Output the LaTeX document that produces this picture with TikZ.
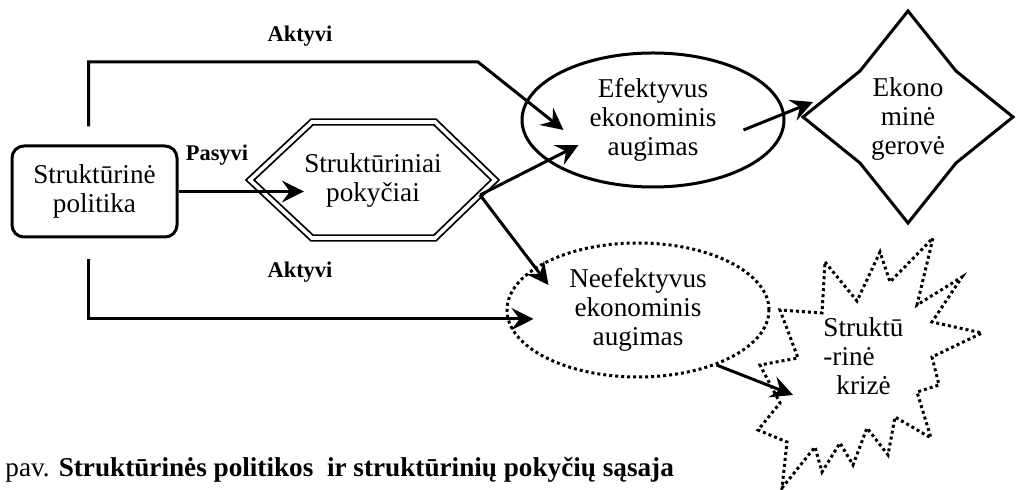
\documentclass[tikz,border=0pt]{standalone}
\usepackage{fontspec}
\setmainfont{Liberation Serif}
\usepackage{tikz}
\usetikzlibrary{arrows.meta, positioning, calc, shapes.geometric}
\tikzstyle{arrow} = [-{Stealth[length=11pt, width=11pt, inset=4pt]}, line width=1.5pt]
\tikzstyle{dots} = [line width=1.5pt, dash pattern=on 1.5pt off 1.5pt]
\tikzstyle{txt} = [align=center, inner sep=0pt]
\tikzstyle{tag} = [font=\fontsize{11.2}{13}\selectfont\bfseries, inner sep=0pt]

\begin{document}
\begin{tikzpicture}[x=0.5pt, y=-0.5pt, font=\fontsize{13.6}{14.5}\selectfont]

\useasboundingbox (0, 0) rectangle (1018, 490);

% Policy box
\node [draw, line width=1.5pt, rounded corners=6pt, minimum width=82.5pt, minimum height=45.5pt, align=center] (policy) at (94.5, 191.5) {Struktūrinė\\politika};

% Structural changes (hexagon)
\draw [double, line width=0.9pt, double distance=1.8pt] (250, 180) -- (312, 122) -- (435, 122) -- (495, 180) -- (435, 238) -- (312, 238) -- cycle;
\node [txt, minimum width=61.5pt] (change) at (373, 181) {Struktūriniai\\pokyčiai};
\coordinate (hexout) at (480, 195);

% Growth
\node [ellipse, draw, line width=1.5pt, minimum width=131pt, minimum height=67pt, txt] (eff) at (653, 120) {Efektyvus\\ekonominis\\augimas};
\node [ellipse, draw, dots, minimum width=131pt, minimum height=67pt, txt] (ineff) at (638, 310) {Neefektyvus\\ekonominis\\augimas};

% Welfare
\draw [line width=1.5pt] (908, 11) -- (956, 71) -- (1013, 117) -- (956, 163) -- (908, 223) -- (860, 163) -- (803, 117) -- (860, 71) -- cycle;
\coordinate (wleft) at (803, 117);
\node [txt] (wealth) at (908, 119) {Ekono\\minė\\gerovė};

% Crisis
\draw [dots] (825, 262) -- (857, 301) -- (880, 252) -- (890, 282) -- (933, 238) -- (917, 305) -- (962, 277) -- (932, 322) -- (982, 333) -- (932, 357) -- (939, 385) -- (917, 392) -- (931, 438) -- (895, 417) -- (888, 455) -- (867, 428) -- (853, 465) -- (840, 443) -- (822, 472) -- (815, 447) -- (782, 488) -- (787, 442) -- (758, 430) -- (780, 403) -- (760, 365) -- (798, 358) -- (780, 310) -- (822, 313) -- cycle;
\node [align=left, inner sep=0pt, anchor=west] (crisis) at (823, 356) {Struktū\\-rinė\\\hspace*{6.5pt}krizė};

% Connectors
\draw [arrow] (policy.east) -- (policy.east -| change.west);
\node [tag] (passive) at (217, 155) {Pasyvi};

\coordinate (bendtop) at (478, 62);
\draw [arrow] ($(policy.north)+(-6,-18)$) |- (bendtop) -- ($(eff.west)+(43,10)$);
\node [tag] (active1) at (300, 36) {Aktyvi};

\draw [arrow] ($(policy.south)+(-6,21)$) |- ($(ineff.west)+(28,9)$);
\node [tag] (active2) at (300, 272) {Aktyvi};

\draw [arrow] (hexout) -- ($(eff.west)+(58,25)$);
\draw [arrow] (hexout) -- ($(ineff.west)+(43,-25)$);
\draw [arrow] ($(eff.east)+(-42,10)$) -- ($(wleft)+(10,-15)$);
\draw [arrow] (ineff.-35) -- ($(crisis.west)+(-30,39)$);

% Caption
\node [anchor=base west, inner sep=0pt] (caption) at (5, 477) {pav. \textbf{Struktūrinės politikos\ \ ir struktūrinių pokyčių sąsaja}};

\end{tikzpicture}
\end{document}
